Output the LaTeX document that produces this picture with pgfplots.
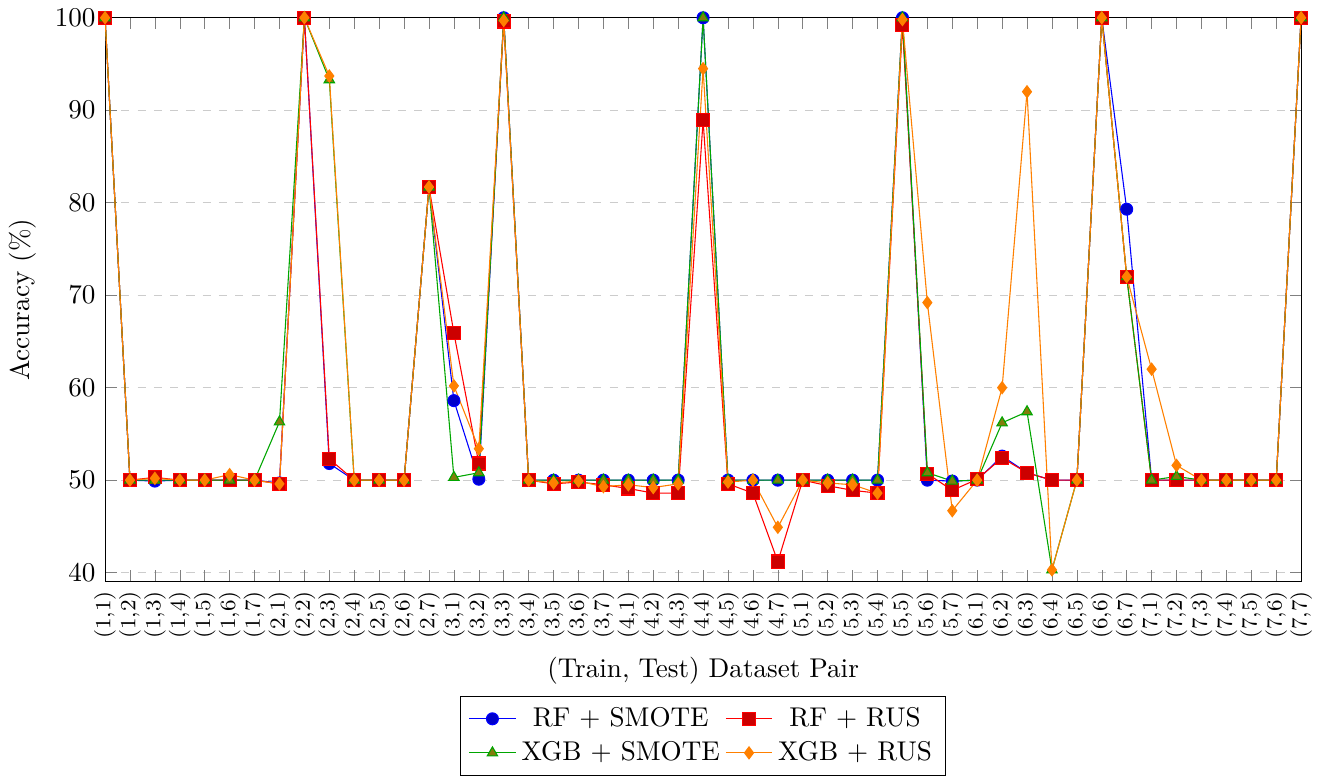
\documentclass[border=0pt]{standalone}
\usepackage{pgfplots}
\usepackage{pgfplotstable}
\pgfplotsset{compat=1.18}
\pgfplotstableread{
x rfs rfr xgs xgr
0 100 100 100 100
1 50 50 50 50
2 49.9 50.3 50 50.2
3 50 50 50 50
4 50 50 50 50
5 50 50 50 50.6
6 50 50 50 50
7 49.7 49.6 56.3 49.6
8 100 100 100 100
9 51.8 52.3 93.3 93.7
10 50 50 50 50
11 50 50 50 50
12 50 50 50 50
13 81.7 81.7 81.7 81.7
14 58.6 65.9 50.3 60.2
15 50.1 51.8 50.8 53.4
16 100 99.6 100 99.7
17 50 50 50 50
18 50 49.6 50 49.7
19 50 49.8 50 49.9
20 50 49.5 50 49.3
21 50 49.1 50 49.5
22 50 48.6 50 49.2
23 50 48.6 50 49.6
24 100 88.9 100 94.5
25 50 49.6 50 49.8
26 50 48.6 50 50
27 50 41.2 50 44.9
28 50 50 50 50
29 50 49.4 50 49.7
30 50 48.9 50 49.5
31 50 48.6 50 48.6
32 100 99.2 100 99.8
33 50 50.7 50.8 69.2
34 49.9 48.9 49.9 46.7
35 50 50.1 50 50
36 52.6 52.4 56.2 60.0
37 50.8 50.8 57.4 92.0
38 50 50 40.3 40.3
39 50 50 50 50
40 100 100 100 100
41 79.3 72.0 72.0 72.0
42 50 50 50 62.0
43 50 50 50.4 51.6
44 50 50 50 50
45 50 50 50 50
46 50 50 50 50
47 50 50 50 50
48 100 100 100 100
}\datatable
\begin{document}
\begin{tikzpicture}
\begin{axis}[
  width=441pt, height=208pt, scale only axis,
  xmin=0, xmax=48, ymin=39, ymax=100,
  xtick={0,...,48},
  xticklabels={(1,1),(1,2),(1,3),(1,4),(1,5),(1,6),(1,7),(2,1),(2,2),(2,3),(2,4),(2,5),(2,6),(2,7),(3,1),(3,2),(3,3),(3,4),(3,5),(3,6),(3,7),(4,1),(4,2),(4,3),(4,4),(4,5),(4,6),(4,7),(5,1),(5,2),(5,3),(5,4),(5,5),(5,6),(5,7),(6,1),(6,2),(6,3),(6,4),(6,5),(6,6),(6,7),(7,1),(7,2),(7,3),(7,4),(7,5),(7,6),(7,7)},
  x tick label style={rotate=90, anchor=east, font=\footnotesize},
  ytick={40,50,60,70,80,90,100},
  ymajorgrids, grid style={dashed, gray!40},
  xlabel={(Train, Test) Dataset Pair},
  ylabel={Accuracy (\%)},
  legend columns=2,
  legend style={at={(0.5,-0.202)}, anchor=north, font=\normalsize},
  mark size=2.2pt,
]
\addplot[color=blue, mark=*, mark options={fill=blue!80!black}] table[x=x, y=rfs] {\datatable};
\addlegendentry{RF + SMOTE}
\addplot[color=red, mark=square*, mark size=2.4pt, mark options={fill=red!80!black}] table[x=x, y=rfr] {\datatable};
\addlegendentry{RF + RUS}
\addplot[color=green!65!black, mark=triangle*, mark options={fill=olive!90!black}] table[x=x, y=xgs] {\datatable};
\addlegendentry{XGB + SMOTE}
\addplot[color=orange, mark=diamond*, mark options={fill=orange}] table[x=x, y=xgr] {\datatable};
\addlegendentry{XGB + RUS}
\end{axis}
\end{tikzpicture}
\end{document}
